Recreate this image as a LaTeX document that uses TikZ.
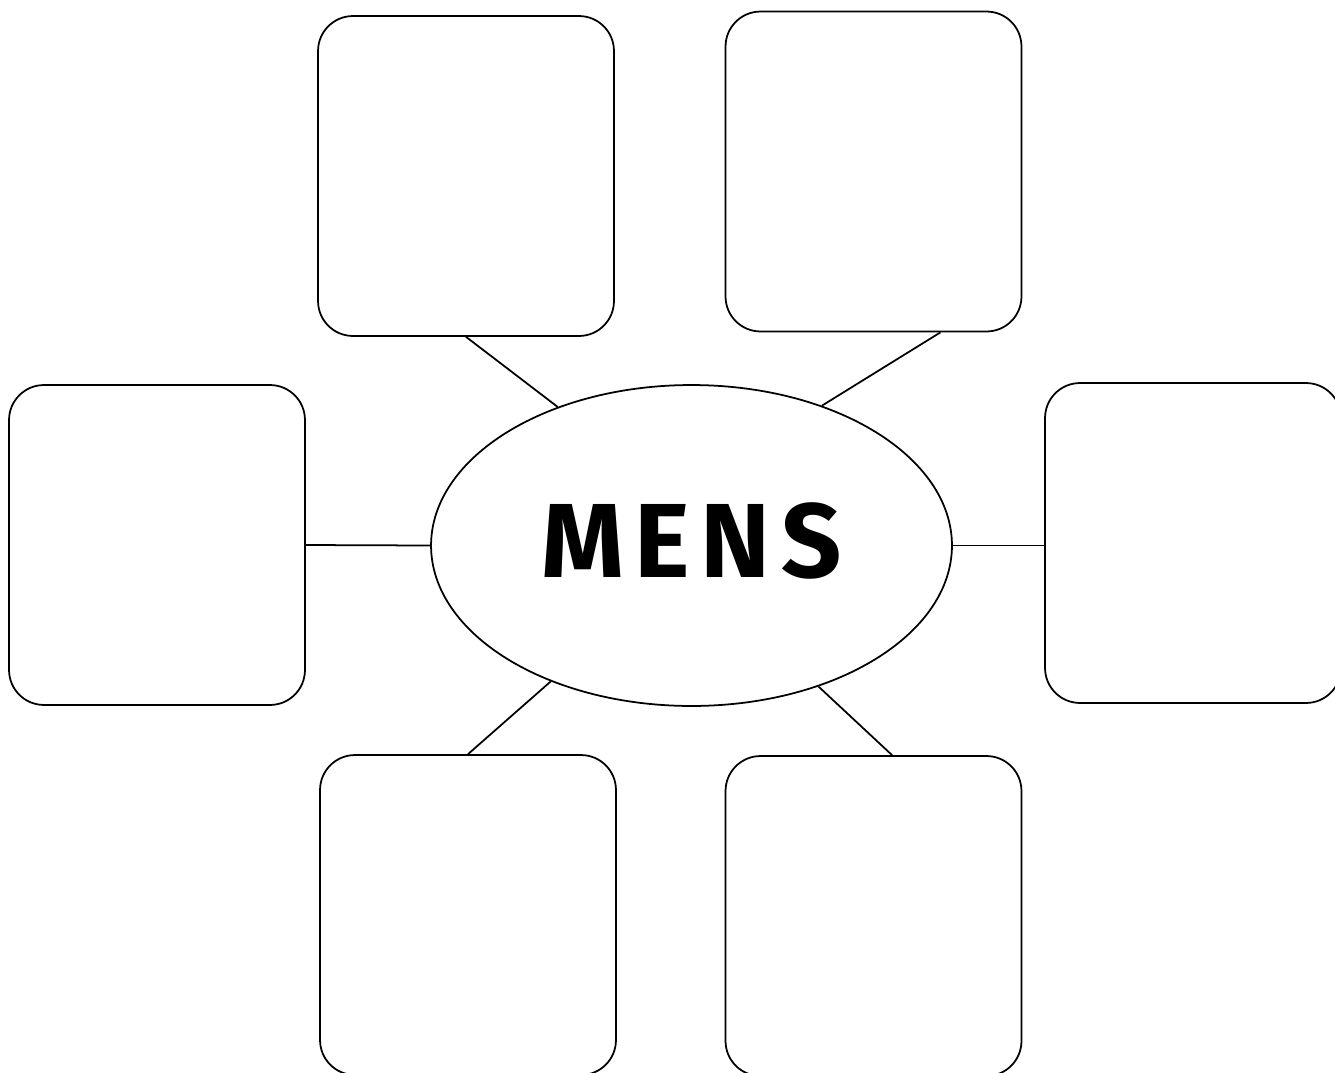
\documentclass[tikz,border=0pt]{standalone}
\usepackage{fontspec}
\newfontfamily\mindfont[LetterSpace=10]{Fira Sans}
\usetikzlibrary{shapes.geometric, calc}

\begin{document}
\begin{tikzpicture}[
    x=0.02cm, y=-0.02cm,
    line width=1pt,
    % Empty answer box
    answer/.style={draw=black, rectangle, rounded corners=0.7cm, minimum width=5.92cm, minimum height=6.4cm},
    % Central topic oval
    topic/.style={draw=black, ellipse, minimum width=10.42cm, minimum height=6.42cm, inner sep=0pt, text depth=0.2cm, font=\mindfont\bfseries\fontsize{60}{66}\selectfont},
    % Spoke
    spoke/.style={draw=black}
]
\useasboundingbox (0,0) rectangle (1335,1072);

% ================= Nodes =================

% Centre
\node[topic] (mens) at (691.5,545.5) {MENS};

% Top row
\node[answer] (topL) at (466,176) {};
\node[answer] (topR) at (873.5,171.5) {};

% Middle row
\node[answer] (midL) at (157,545) {};
\node[answer] (midR) at (1193,543) {};

% Bottom row
\node[answer] (botL) at (468,915) {};
\node[answer] (botR) at (873.5,916) {};

% ================= Connections =================

\draw[spoke] (topL.south) -- (mens.134);
\draw[spoke] ($(topR.south)!0.45!(topR.south east)$) -- (mens.47);
\draw[spoke] (midL.east) -- (mens.west);
\draw[spoke] (mens.east) -- (mens.east -| midR.west);
\draw[spoke] (mens.224) -- (botL.north);
\draw[spoke] (mens.312) -- ($(botR.north)!0.125!(botR.north east)$);

\end{tikzpicture}
\end{document}
